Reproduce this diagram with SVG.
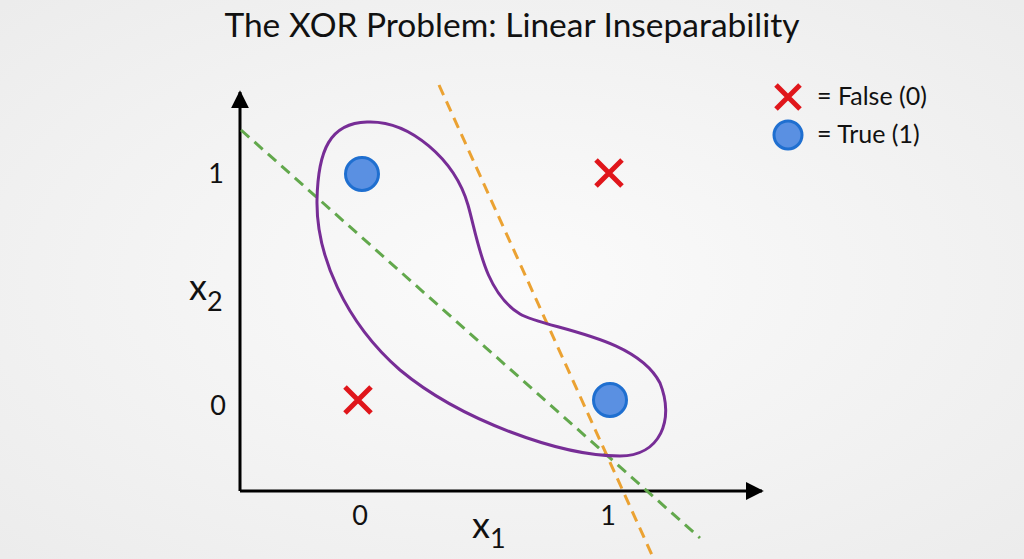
<svg xmlns="http://www.w3.org/2000/svg" width="1024" height="559" viewBox="0 0 1024 559">
<defs>
<style>
text{font-family:Lato,"Liberation Sans",sans-serif;fill:#111}
.tick{font-size:27px}
.axis{stroke:#000;stroke-width:3;fill:none}
.dash{stroke-width:3;stroke-dasharray:11 7;fill:none}
.pt{fill:#5a90e2;stroke:#1f6fd0;stroke-width:3}
.x{stroke:#e0161b;stroke-width:5;stroke-linecap:butt}
</style>
<radialGradient id="bg" cx="50%" cy="50%" r="70%">
<stop offset="0" stop-color="#fbfbfb"/>
<stop offset="1" stop-color="#ececec"/>
</radialGradient>
<marker id="ah" viewBox="0 0 10 10" refX="9" refY="5" markerWidth="6" markerHeight="6" orient="auto" markerUnits="strokeWidth">
<path d="M0,0 L10,5 L0,10 Z" fill="#000"/>
</marker>
</defs>
<rect width="1024" height="559" fill="url(#bg)"/>
<text x="512" y="37" text-anchor="middle" font-size="33.5">The XOR Problem: Linear Inseparability</text>
<g id="axes">
<line class="axis" x1="240" y1="491" x2="240" y2="92" marker-end="url(#ah)"/>
<line class="axis" x1="240" y1="491" x2="762" y2="491" marker-end="url(#ah)"/>
<text class="tick" x="216" y="183" text-anchor="middle">1</text>
<text class="tick" x="218" y="415" text-anchor="middle">0</text>
<text class="tick" x="360" y="525" text-anchor="middle">0</text>
<text class="tick" x="608" y="525" text-anchor="middle">1</text>
<text x="189" y="300" font-size="36">x<tspan font-size="27" dy="11">2</tspan></text>
<text x="472" y="538" font-size="36">x<tspan font-size="27" dy="10">1</tspan></text>
</g>
<g id="connectors">
<line class="dash" x1="241" y1="130" x2="700" y2="538" stroke="#62a84c"/>
<line class="dash" x1="439" y1="85" x2="652" y2="555" stroke="#eba232"/>
</g>
<g id="region">
<path d="M367 122 C410 120 455 160 468 205 C478 240 484 292 520 314 C545 329 635 335 660 383 C675 420 660 456 620 456 C560 456 460 420 400 370 C345 322 316 255 317 200 C318 150 330 123 367 122 Z" fill="none" stroke="#772d96" stroke-width="3"/>
</g>
<g id="p01"><circle class="pt" cx="362" cy="174" r="16.5"/></g>
<g id="p10"><circle class="pt" cx="610" cy="400" r="16.5"/></g>
<g id="p00"><path class="x" d="M345 387 L371 413 M371 387 L345 413"/></g>
<g id="p11"><path class="x" d="M596 160 L622 186 M622 160 L596 186"/></g>
<g id="legend">
<path class="x" d="M776 85 L800 109 M800 85 L776 109"/>
<text x="817" y="105" font-size="25">= False (0)</text>
<circle class="pt" cx="788" cy="135" r="14"/>
<text x="817" y="143" font-size="25">= True (1)</text>
</g>
</svg>
